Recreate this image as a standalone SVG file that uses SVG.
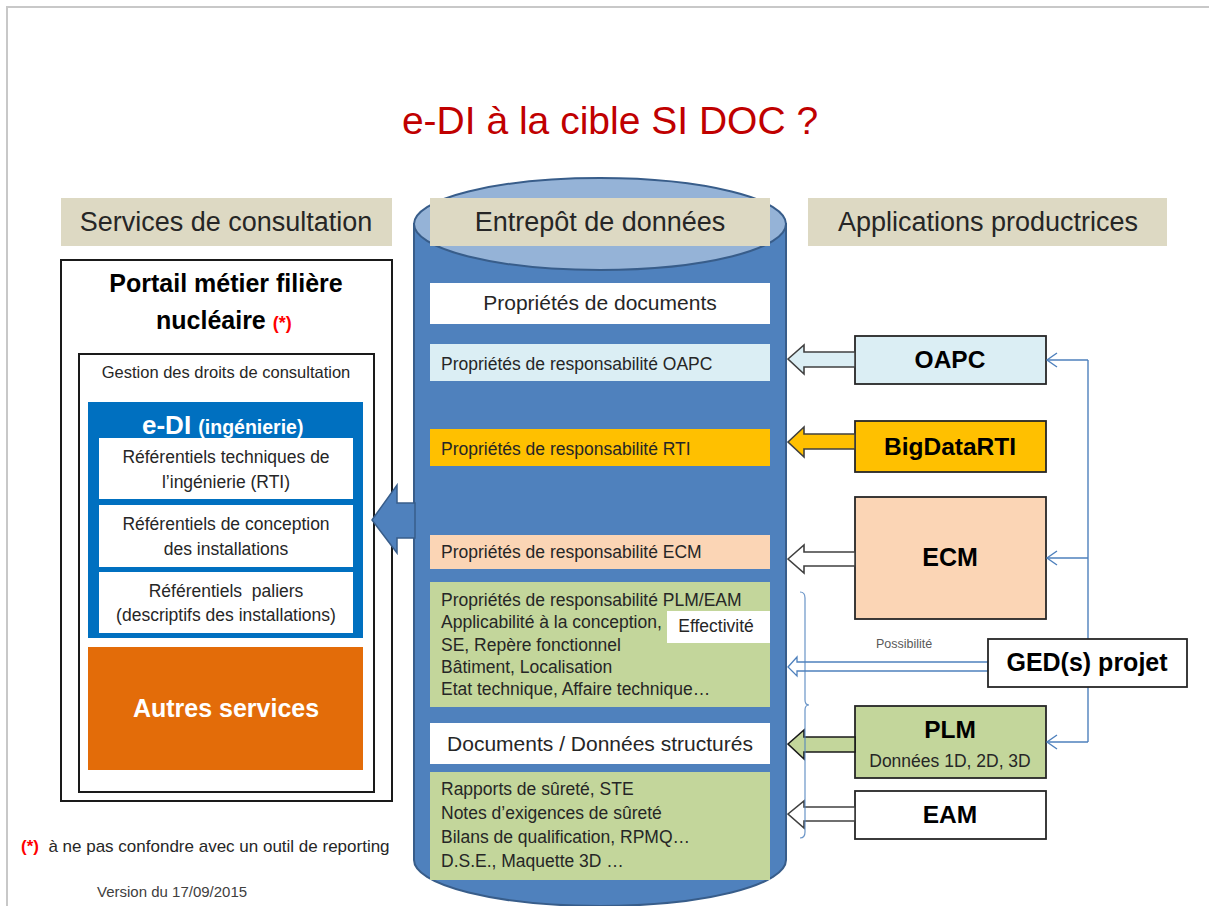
<svg xmlns="http://www.w3.org/2000/svg" width="1209" height="906" viewBox="0 0 1209 906">
<style>
text{font-family:"Liberation Sans",Arial,sans-serif;fill:#262626}
.hdr{fill:#ddd9c3}
.ht{font-size:27px;text-anchor:middle}
.row{font-size:17.5px}
.big{font-size:21px;text-anchor:middle}
.c{text-anchor:middle}
.b{font-weight:bold;fill:#000}
.app{stroke:#262626;stroke-width:1.8}
.blk{stroke:#404040;stroke-width:1.6}
.conn{fill:none;stroke:#4f81bd;stroke-width:1.4}
.ref{font-size:17.5px;text-anchor:middle}
.pre{white-space:pre}
</style>
<rect width="1209" height="906" fill="#fff"/>
<path d="M7 906 V7 H1209" fill="none" stroke="#c8c8c8" stroke-width="2"/>
<text x="610" y="134" text-anchor="middle" style="font-size:39px;fill:#c00000">e-DI à la cible SI DOC ?</text>

<g id="cylinder">
<path d="M414 224 L414 860 A186 46 0 0 0 786 860 L786 224 Z" fill="#4f81bd" stroke="#385d8a" stroke-width="2"/>
<ellipse cx="600" cy="224" rx="186" ry="46" fill="#95b3d7" stroke="#385d8a" stroke-width="2"/>
</g>

<g id="headers">
<rect class="hdr" x="61" y="198" width="331" height="48"/>
<text class="ht" x="226" y="231">Services de consultation</text>
<rect class="hdr" x="430" y="198" width="340" height="48"/>
<text class="ht" x="600" y="231">Entrepôt de données</text>
<rect class="hdr" x="808" y="198" width="359" height="48"/>
<text class="ht" x="988" y="231">Applications productrices</text>
</g>

<g id="store-rows">
<rect x="430" y="283" width="340" height="41" fill="#fff"/>
<text class="big" x="600" y="310">Propriétés de documents</text>
<rect x="430" y="344" width="340" height="37" fill="#dbeef4"/>
<text class="row" x="441" y="370">Propriétés de responsabilité OAPC</text>
<rect x="430" y="429" width="340" height="37" fill="#ffc000"/>
<text class="row" x="441" y="455">Propriétés de responsabilité RTI</text>
<rect x="430" y="535" width="340" height="34" fill="#fbd5b5"/>
<text class="row" x="441" y="558">Propriétés de responsabilité ECM</text>
<rect x="430" y="582" width="340" height="125" fill="#c3d69b"/>
<text class="row" x="441" y="606">Propriétés de responsabilité PLM/EAM</text>
<text class="row" x="441" y="628">Applicabilité à la conception,</text>
<text class="row" x="441" y="651">SE, Repère fonctionnel</text>
<text class="row" x="441" y="673">Bâtiment, Localisation</text>
<text class="row" x="441" y="695">Etat technique, Affaire technique…</text>
<rect x="667" y="611" width="103" height="32" fill="#fff"/>
<text class="row c" x="716" y="632">Effectivité</text>
<rect x="430" y="723" width="340" height="41" fill="#fff"/>
<text class="big" x="600" y="751">Documents / Données structurés</text>
<rect x="430" y="772" width="340" height="108" fill="#c3d69b"/>
<text class="row" x="441" y="795">Rapports de sûreté, STE</text>
<text class="row" x="441" y="819">Notes d’exigences de sûreté</text>
<text class="row" x="441" y="843">Bilans de qualification, RPMQ…</text>
<text class="row" x="441" y="867">D.S.E., Maquette 3D …</text>
</g>

<g id="portail">
<rect x="61" y="260" width="331" height="541" fill="#fff" stroke="#1a1a1a" stroke-width="2"/>
<text class="b c" x="226" y="292" style="font-size:25px">Portail métier filière</text>
<text class="b" x="156" y="329" style="font-size:25px">nucléaire <tspan style="fill:#ff0000;font-size:18px">(*)</tspan></text>
<rect x="79" y="354" width="295" height="438" fill="#fff" stroke="#1a1a1a" stroke-width="2"/>
<text class="c" x="226" y="378" style="font-size:16.5px">Gestion des droits de consultation</text>
</g>

<g id="edi">
<rect x="88" y="402" width="275" height="236" fill="#0070c0"/>
<text class="b" x="142" y="434" style="font-size:26px;fill:#fff">e-DI <tspan style="font-size:19.5px;fill:#fff">(ingénierie)</tspan></text>
<rect x="99" y="438" width="254" height="61" fill="#fff"/>
<text class="ref" x="226" y="463">Référentiels techniques de</text>
<text class="ref" x="226" y="488">l’ingénierie (RTI)</text>
<rect x="99" y="505" width="254" height="62" fill="#fff"/>
<text class="ref" x="226" y="530">Référentiels de conception</text>
<text class="ref" x="226" y="555">des installations</text>
<rect x="99" y="572" width="254" height="61" fill="#fff"/>
<text class="ref pre" x="226" y="597" xml:space="preserve">Référentiels  paliers</text>
<text class="ref" x="226" y="621">(descriptifs des installations)</text>
</g>

<g id="autres">
<rect x="88" y="647" width="275" height="123" fill="#e36c09"/>
<text class="b c" x="226" y="717" style="font-size:25px;fill:#fff">Autres services</text>
</g>

<g id="notes">
<text class="pre" x="21" y="852" style="font-size:17px" xml:space="preserve"><tspan style="fill:#ff0000;font-weight:bold">(*)</tspan>  à ne pas confondre avec un outil de reporting</text>
<text x="97" y="897" style="font-size:15px;fill:#404040">Version du 17/09/2015</text>
</g>

<g id="oapc"><rect class="app" x="855" y="336" width="191" height="48" fill="#dbeef4"/><text class="b c" x="950" y="368" style="font-size:24.5px">OAPC</text></g>
<g id="bigdata"><rect class="app" x="855" y="421" width="191" height="51" fill="#ffc000"/><text class="b c" x="950" y="455" style="font-size:24.5px">BigDataRTI</text></g>
<g id="ecm"><rect class="app" x="855" y="497" width="191" height="122" fill="#fbd5b5"/><text class="b c" x="950" y="566" style="font-size:25px">ECM</text></g>
<g id="plm"><rect class="app" x="855" y="706" width="191" height="72" fill="#c3d69b"/><text class="b c" x="950" y="738" style="font-size:24.5px">PLM</text><text class="c" x="950" y="767" style="font-size:17.5px">Données 1D, 2D, 3D</text></g>
<g id="eam"><rect class="app" x="855" y="791" width="191" height="48" fill="#fff"/><text class="b c" x="950" y="823" style="font-size:24.5px">EAM</text></g>

<g id="connectors">
<path class="conn" d="M1088 360 V742 M1088 360 H1047 M1088 558 H1047 M1088 742 H1047"/>
<path class="conn" d="M1057 353 L1047 360 L1057 367 M1057 551 L1047 558 L1057 565 M1057 735 L1047 742 L1057 749"/>
<polygon points="372,520 397,485 397,503 415,503 415,538 397,538 397,553" fill="#4f81bd" stroke="#385d8a" stroke-width="1.5"/>
<polygon class="blk" points="788,359 804,345 804,352 855,352 855,367 804,367 804,374" fill="#dbeef4"/>
<polygon class="blk" points="788,442 804,427 804,434 855,434 855,449 804,449 804,457" fill="#ffc000"/>
<polygon class="blk" points="788,559 804,545 804,552 855,552 855,566 804,566 804,573" fill="#fff"/>
<polygon class="blk" points="788,744 804,730 804,737 855,737 855,752 804,752 804,759" fill="#c3d69b" style="stroke:#1a1a1a"/>
<polygon class="blk" points="788,814 804,801 804,807 855,807 855,821 804,821 804,828" fill="#fff"/>
<polygon points="788,667 797,657 797,662 988,662 988,671 797,671 797,676" fill="#fff" stroke="#4f81bd" stroke-width="1.3"/>
<path class="conn" d="M800 592 Q805 592 805 598 L805 700 Q805 705 809 705 Q805 705 805 710 L805 832 Q805 838 800 838" style="stroke-width:1.2;opacity:0.85"/>
<text x="876" y="648" style="font-size:12.5px;fill:#595959">Possibilité</text>
</g>

<g id="ged"><rect class="app" x="988" y="639" width="199" height="48" fill="#fff"/><text class="b c" x="1087" y="671" style="font-size:25px">GED(s) projet</text></g>
</svg>
